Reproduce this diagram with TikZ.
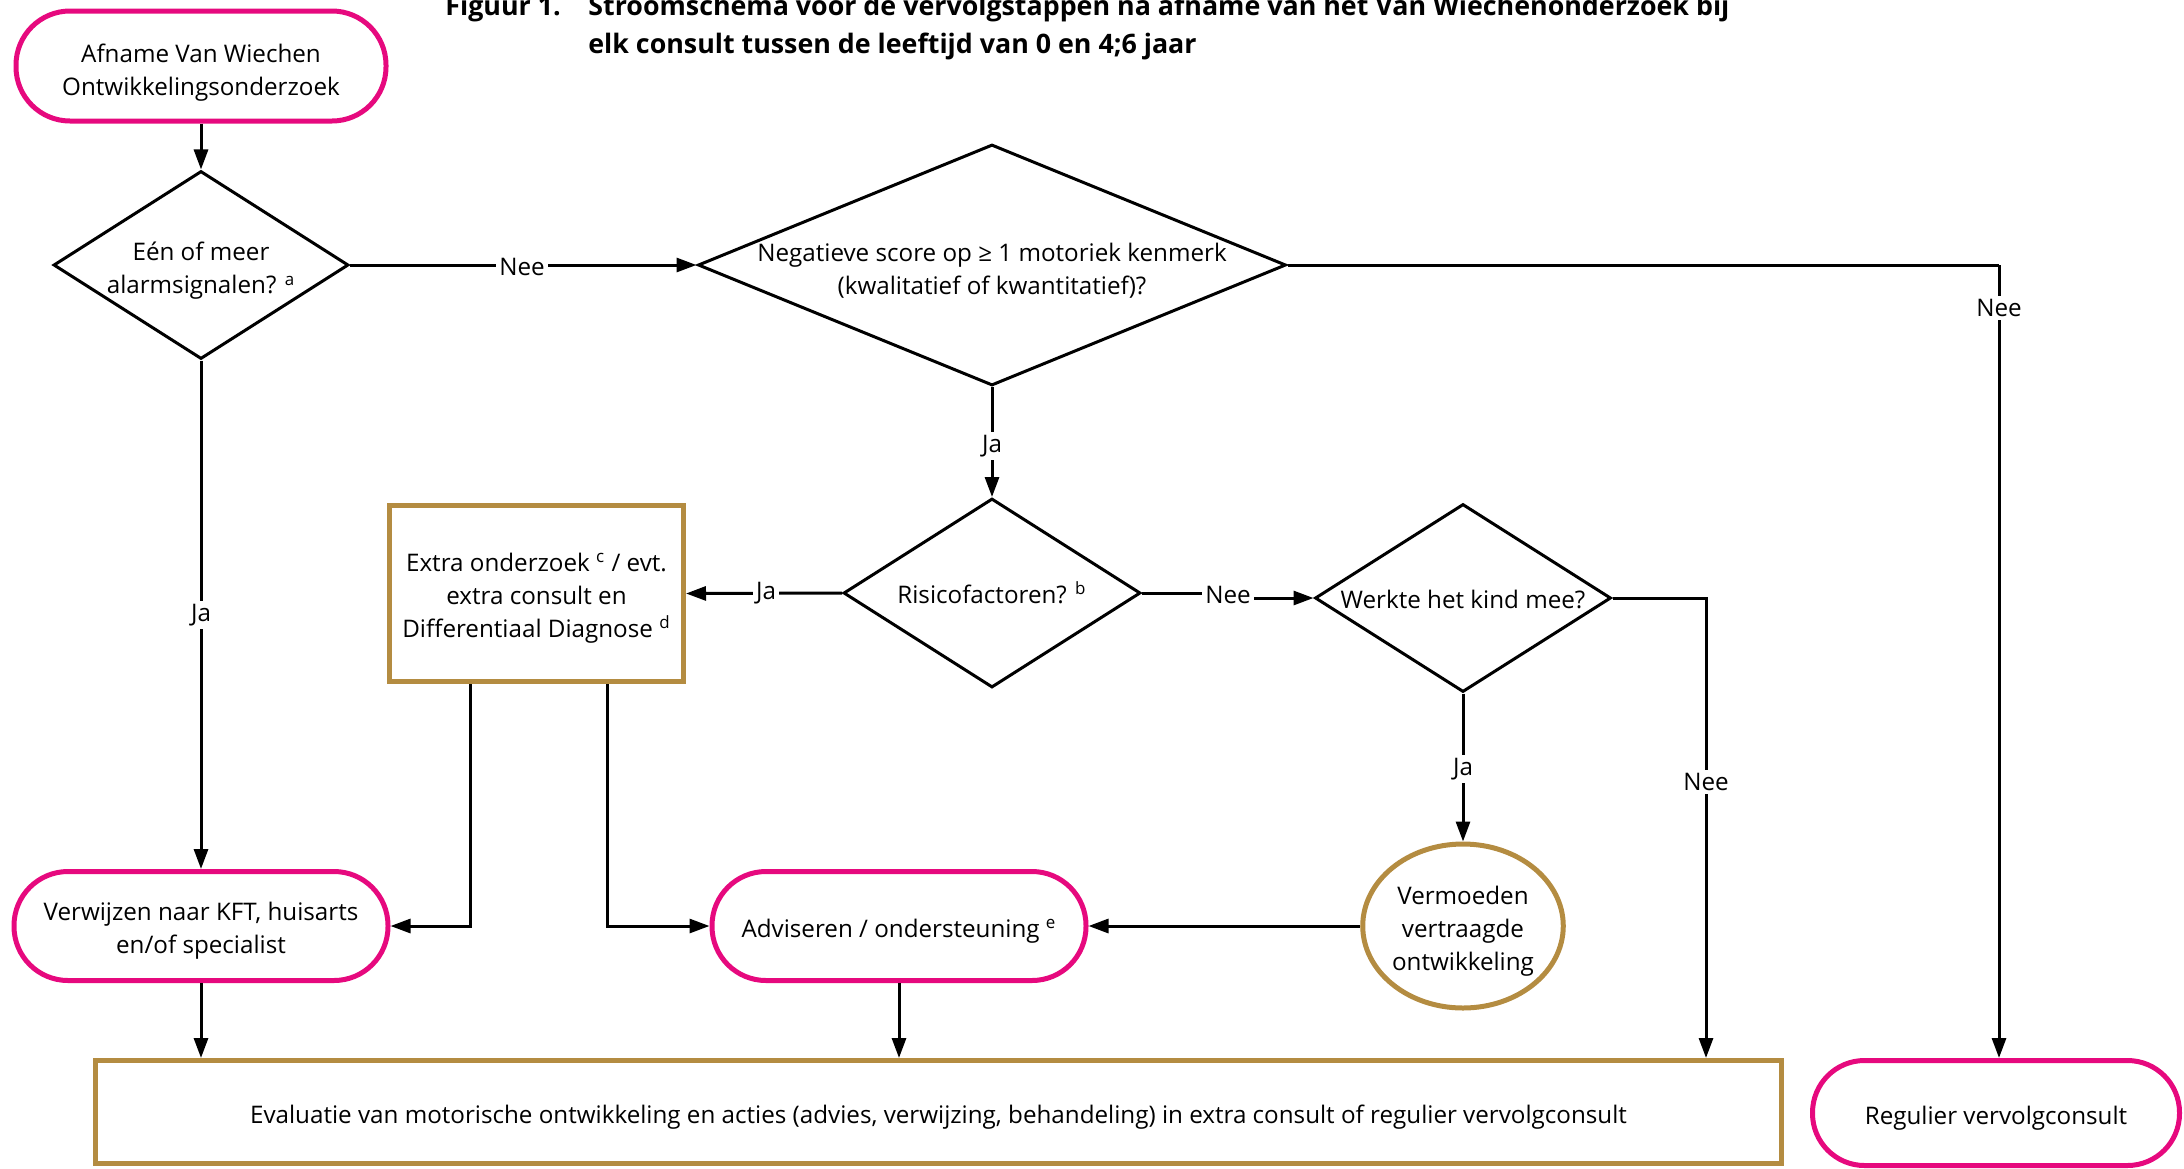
\documentclass[tikz,border=0pt]{standalone}
\usepackage{fontspec}
\setmainfont{Open Sans}
\usetikzlibrary{arrows.meta,shapes.geometric,calc}
\definecolor{fpink}{HTML}{E6097E}
\definecolor{fgold}{HTML}{B48C41}
\newcommand\tstrut{\rule{0pt}{14pt}}
\begin{document}
\begin{tikzpicture}[x=0.5pt,y=-0.5pt,
  font=\fontsize{12.1}{16.5}\selectfont,
  conn/.style={line width=1.5pt,black},
  arr/.style={conn,-{Triangle[length=10pt,width=7pt]}},
  term/.style={draw=fpink,line width=2.5pt,rounded corners=27pt,minimum width=187pt,minimum height=54.5pt,align=center,inner sep=0pt},
  dec/.style={diamond,draw,line width=1.5pt,inner sep=0pt},
  goldbox/.style={draw=fgold,line width=2.5pt,align=center,inner sep=0pt},
  txt/.style={align=center,inner sep=0pt},
  lab/.style={fill=white,inner sep=1.5pt},
  ttl/.style={anchor=base west,inner sep=0pt,font=\fontsize{13.4}{16}\selectfont\bfseries}
]
\useasboundingbox (0,0) rectangle (2184,1168);
\clip (0,0) rectangle (2184,1168);

% title
\node[ttl] (tfig) at (445,15) {Figuur 1.};
\node[ttl] (tl1) at (588,15) {Stroomschema voor de vervolgstappen na afname van het Van Wiechenonderzoek bij};
\node[ttl] (tl2) at (588,53) {elk consult tussen de leeftijd van 0 en 4;6 jaar};

% nodes
\node[term,minimum width=185pt,minimum height=55pt] (start) at (201,66) {\rule{0pt}{16pt}Afname Van Wiechen\\Ontwikkelingsonderzoek};
\node[dec,minimum width=147.5pt,minimum height=94pt] (d1) at (201,265) {};
\node[txt] (t1) at ([yshift=-3pt]d1.center) {Eén of meer\\alarmsignalen? \textsuperscript{a}};
\node[dec,minimum width=294pt,minimum height=120.5pt] (d2) at (992,265) {};
\node[txt] (t2) at ([yshift=-3pt]d2.center) {Negatieve score op ≥ 1 motoriek kenmerk\\(kwalitatief of kwantitatief)?};
\node[dec,minimum width=148.5pt,minimum height=94.5pt] (risk) at (992,593) {};
\node[txt] (t3) at (risk.center) {Risicofactoren? \textsuperscript{b}};
\node[dec,minimum width=148pt,minimum height=94pt] (werk) at (1463,598) {};
\node[txt] (t4) at ([yshift=-0.5pt]werk.center) {Werkte het kind mee?};
\node[goldbox,minimum width=147pt,minimum height=88pt] (extra) at (536.5,593.5)
  {\tstrut Extra onderzoek \textsuperscript{c} / evt.\\extra consult en\\Differentiaal Diagnose \textsuperscript{d}};
\node[term] (verw) at (201,926) {\tstrut Verwijzen naar KFT, huisarts\\en/of specialist};
\node[term] (adv) at (899,926) {\tstrut Adviseren / ondersteuning \textsuperscript{e}};
\node[ellipse,draw=fgold,line width=2.5pt,minimum width=92.5pt,minimum height=82pt,align=center,inner sep=0pt] (verm) at (1463,926) {\tstrut Vermoeden\\vertraagde\\ontwikkeling};
\node[goldbox,minimum width=843pt,minimum height=51.5pt] (eval) at (938.5,1112)
  {\tstrut Evaluatie van motorische ontwikkeling en acties (advies, verwijzing, behandeling) in extra consult of regulier vervolgconsult};
\node[term,minimum width=183.5pt,minimum height=52.5pt,rounded corners=26pt] (reg) at (1996,1113) {\tstrut Regulier vervolgconsult};

% helper coordinates
\coordinate (cx1) at (470,0);
\coordinate (cx2) at (607,0);
\coordinate (cx3) at (1706,0);
\coordinate (cx4) at (1999,0);

% connectors
\draw[arr] (start) -- (d1);
\draw[arr] (d1.east) -- (d2.west);
\draw[conn] (d2.east) -- (cx4 |- d2.east);
\draw[arr] (cx4 |- d2.east) -- (cx4 |- reg.north);
\draw[arr] (d2.south) -- (risk.north);
\draw[arr] (risk.west) -- (extra.east);
\draw[arr] (d1.south) -- (verw.north);
\draw[arr] (werk.south) -- (verm.north);
\draw[arr] (werk.east) -| (cx3 |- eval.north);
\draw[arr] (cx1 |- extra.south) |- (verw.east);
\draw[arr] (cx2 |- extra.south) |- (adv.west);
\draw[arr] (verm.west) -- (adv.east);
\draw[arr] (verw.south) -- (verw.south |- eval.north);
\draw[arr] (adv.south) -- (adv.south |- eval.north);

% labels
\node[lab] (l1) at (522,267) {Nee};
\node[lab] (l2) at (1999,308) {Nee};
\node[lab] (l3) at (992,446) {Ja};
\node[lab] (l4) at (766,593) {Ja};
\node[lab] (l5) at (1228,595) {Nee};
\node[lab] (l6) at (201,615) {Ja};
\node[lab] (l7) at (1463,769) {Ja};
\node[lab] (l8) at (1706,782) {Nee};
\draw[conn] (risk.east) -- (l5.west |- risk.east);
\draw[arr] (l5.east |- werk.west) -- (werk.west);
\end{tikzpicture}
\end{document}
